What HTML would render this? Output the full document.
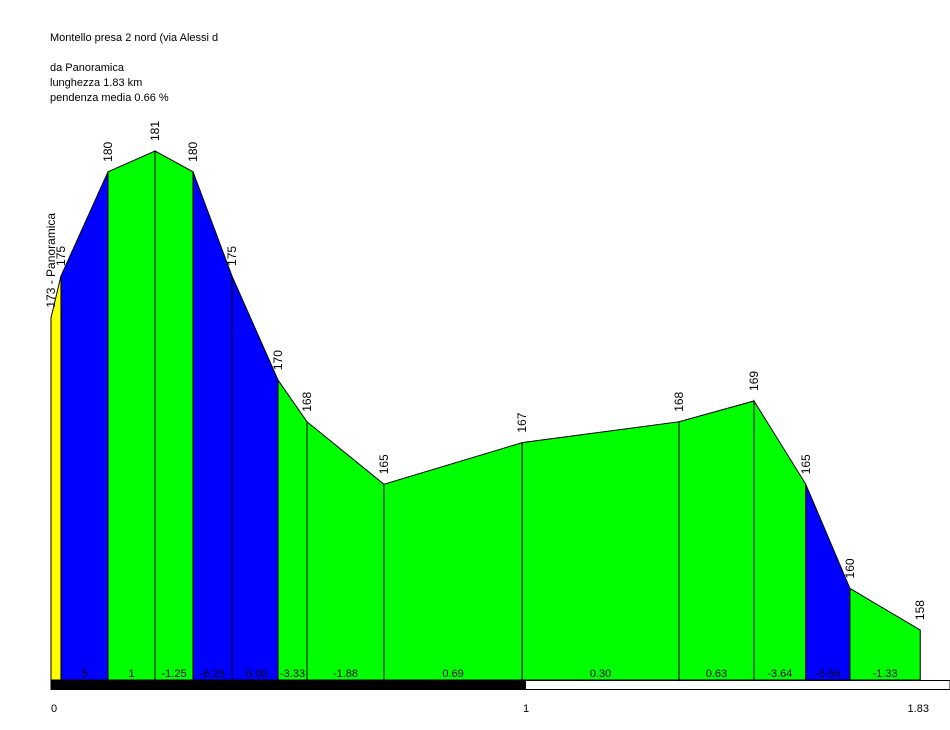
<!DOCTYPE html>
<html><head><meta charset="utf-8"><style>
body{margin:0;background:#fff}
svg{display:block;font-family:"Liberation Sans",Arial,sans-serif}
</style></head><body>
<svg id="chart" width="950" height="730" viewBox="0 0 950 730" xmlns="http://www.w3.org/2000/svg">
<g font-size="11" fill="#000">
<text x="50" y="41">Montello presa 2 nord (via Alessi d</text>
<text x="50" y="71">da Panoramica</text>
<text x="50" y="86">lunghezza 1.83 km</text>
<text x="50" y="101">pendenza media 0.66 %</text>
</g>
<g id="plot"></g>
</svg>
<script>
const distances=[0,0.021,0.12,0.219,0.299,0.381,0.478,0.539,0.701,0.992,1.322,1.48,1.589,1.682,1.83];
const elevations=[173,175,180,181,180,175,170,168,165,167,168,169,165,160,158];
const elevLabels=["173 - Panoramica","175","180","181","180","175","170","168","165","167","168","169","165","160","158"];
const gradients=["","5","1","-1.25","-6.25","-5.00","-3.33","-1.88","0.69","0.30","0.63","-3.64","-5.56","-1.33"];
const segColors=["#ffff00","#0000ff","#00ff00","#00ff00","#0000ff","#0000ff","#00ff00","#00ff00","#00ff00","#00ff00","#00ff00","#00ff00","#0000ff","#00ff00"];
const xTicks=[0,1,1.83];
const xTickLabels=["0","1","1.83"];

const NS="http://www.w3.org/2000/svg";
const X=d=>51+d*475;
const Y=e=>151+(181-e)*20.83;
const BASE=680;
const g=document.getElementById('plot');
function mk(t,a){const e=document.createElementNS(NS,t);for(const k in a)e.setAttribute(k,a[k]);g.appendChild(e);return e;}
for(let i=0;i<distances.length-1;i++){
  const x0=X(distances[i]),x1=X(distances[i+1]),y0=Y(elevations[i]),y1=Y(elevations[i+1]);
  const p=mk('polygon',{points:`${x0},${BASE} ${x0},${y0} ${x1},${y1} ${x1},${BASE}`,fill:segColors[i],stroke:'#000','stroke-width':1});
  
  
  if(gradients[i]){
    const t=mk('text',{x:(x0+x1)/2,y:677,'font-size':11,'text-anchor':'middle'});
    t.textContent=gradients[i];
    
    
  }
}
for(let i=0;i<distances.length;i++){
  const x=X(distances[i])+4,y=Y(elevations[i])-10;
  const t=mk('text',{x:x,y:y,'font-size':12,transform:`rotate(-90 ${x} ${y})`});
  t.textContent=elevLabels[i];
  
  
}
const bw=mk('rect',{x:51,y:680.5,width:899,height:9,fill:'#fff',stroke:'#000','stroke-width':1});


const bb=mk('rect',{x:51,y:680,width:X(1)-51,height:10,fill:'#000'});


for(let i=0;i<xTicks.length;i++){
  const t=mk('text',{x:X(xTicks[i])+(i==xTicks.length-1?-2:0),y:712,'font-size':11,'text-anchor':i==0?'start':(i==xTicks.length-1?'middle':'middle')});
  t.textContent=xTickLabels[i];
  
  
}
</script>
</body></html>
